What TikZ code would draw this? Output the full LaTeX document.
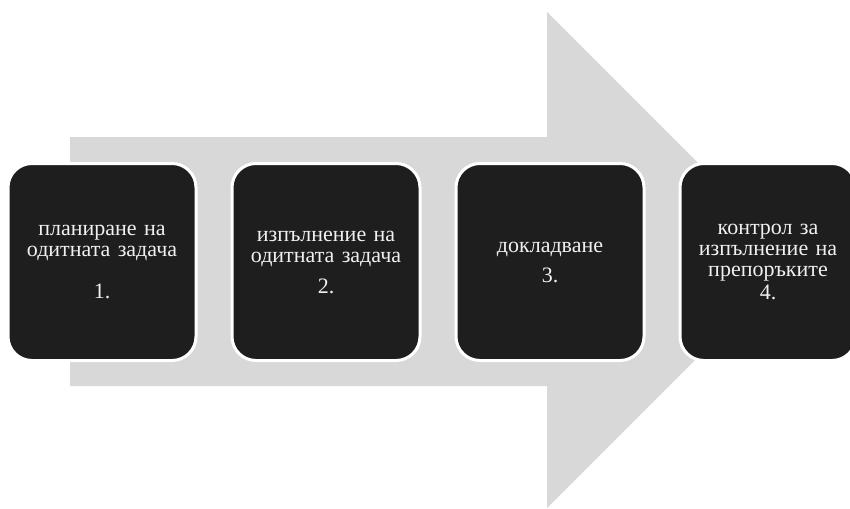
\documentclass[tikz,border=0pt]{standalone}
\usepackage{fontspec}
\setmainfont{Liberation Serif}
\usetikzlibrary{positioning}
\definecolor{arrowgray}{RGB}{216,216,216}
\definecolor{stepblack}{RGB}{30,30,30}

\begin{document}
\begin{tikzpicture}[x=1pt, y=-1pt,
    stage/.style={rectangle, rounded corners=24pt, minimum width=188pt, minimum height=197pt, text width=174pt, align=center, draw=white, line width=3pt, fill=stepblack, text=white!94!black, font=\fontsize{22}{21}\selectfont, inner sep=0pt}
]
\useasboundingbox (0,0) rectangle (850,508);

% Big arrow behind
\fill[arrowgray] (70,137) -- (547,137) -- (547,12) -- (795,260) -- (547,508) -- (547,386) -- (70,386) -- cycle;

% Stages
\node (plan) [stage] at (102,262) {планиране на\\ одитната задача\\[21pt] 1.};
\node (exec) [stage, right=33pt of plan] {изпълнение на\\ одитната задача\\[10pt] 2.};
\node (report) [stage, right=33pt of exec] {докладване\\[9pt] 3.};
\node (control) [stage, minimum width=176pt, right=33pt of report] {контрол за\\ изпълнение на\\ препоръките\\[2pt] 4.};

\end{tikzpicture}
\end{document}
